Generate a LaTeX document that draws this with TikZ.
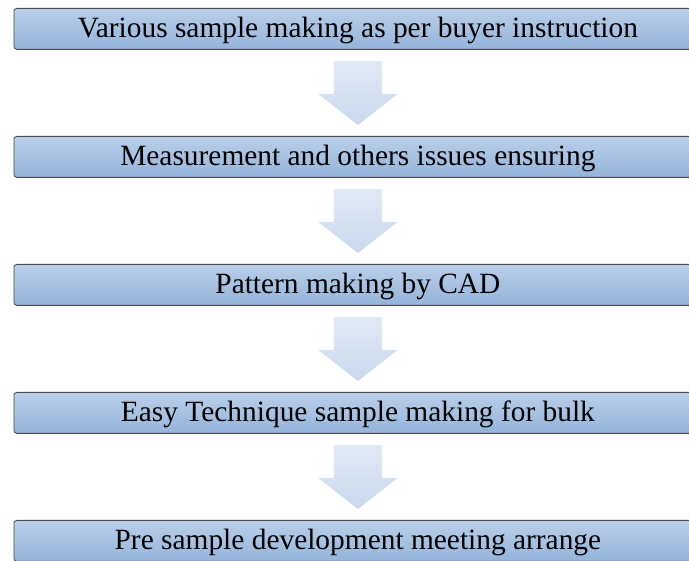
\documentclass[tikz,border=0pt]{standalone}
\usepackage{fontspec}
\setmainfont{Liberation Serif}
\begin{document}
\begin{tikzpicture}[x=1pt,y=-1pt,
  stepbox/.style={draw=black!70, line width=0.8pt, rounded corners=3pt,
    top color=boxtop, bottom color=boxbot, minimum width=688pt, minimum height=41pt,
    inner sep=0pt, text height=20pt, text depth=2pt,
    font=\fontsize{29.4}{33}\selectfont, anchor=north west},
  flowarrow/.style={top color=arrtop, bottom color=arrbot, draw=none}
]
\definecolor{boxtop}{HTML}{B9CFEA}
\definecolor{boxbot}{HTML}{95B4DA}
\definecolor{arrtop}{HTML}{E2EAF5}
\definecolor{arrbot}{HTML}{C9D9EE}
\useasboundingbox (0,0) rectangle (689,561);
\clip (0,0) rectangle (689,561);
\fill[white] (0,0) rectangle (689,561);

% process steps
\node[stepbox] (s1) at (13.5,8) {Various sample making as per buyer instruction};
\node[stepbox] (s2) at (13.5,136) {Measurement and others issues ensuring};
\node[stepbox] (s3) at (13.5,264) {Pattern making by CAD};
\node[stepbox] (s4) at (13.5,392) {Easy Technique sample making for bulk};
\node[stepbox] (s5) at (13.5,520) {Pre sample development meeting arrange};

% block arrows between consecutive steps
\foreach \a/\b in {s1/s2,s2/s3,s3/s4,s4/s5}{
  \path[flowarrow] ([shift={(-24,11)}]\a.south) -- ([shift={(24,11)}]\a.south)
    -- ([shift={(24,44)}]\a.south) -- ([shift={(40,44)}]\a.south)
    -- ([shift={(0,-11)}]\b.north) -- ([shift={(-40,44)}]\a.south)
    -- ([shift={(-24,44)}]\a.south) -- cycle;
}
\end{tikzpicture}
\end{document}
